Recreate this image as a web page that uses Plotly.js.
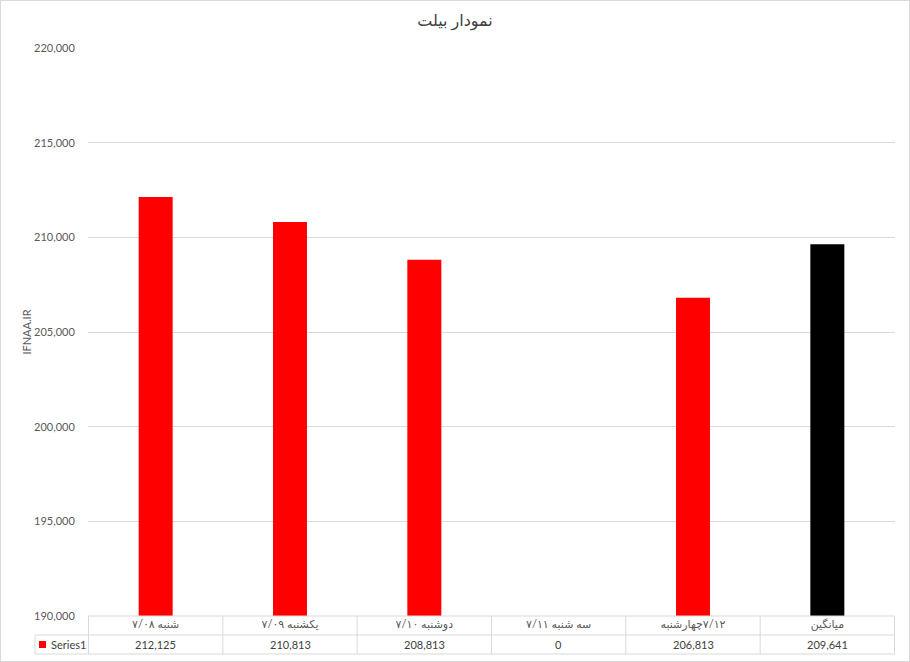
<!DOCTYPE html>
<html>
<head>
<meta charset="utf-8">
<script src="https://cdn.plot.ly/plotly-3.0.1.min.js"></script>
<style>
html,body{margin:0;padding:0;background:#fff;}
#chart{width:910px;height:662px;box-sizing:border-box;border:1px solid #D9D9D9;}
</style>
</head>
<body>
<div id="chart"></div>
<script>
// Data
const categories = ["۷/۰۸ شنبه", "۷/۰۹ یکشنبه", "۷/۱۰ دوشنبه", "۷/۱۱ سه شنبه", "چهارشنبه\u200E۷/۱۲", "میانگین"];
const values = [212125, 210813, 208813, 0, 206813, 209641];
const valueLabels = ["212,125", "210,813", "208,813", "0", "206,813", "209,641"];
const seriesName = "Series1";
const chartTitle = "نمودار بیلت";
const yTitle = "IFNAA.IR";

const FONT = "Lato, 'DejaVu Sans', sans-serif";
const GRID = "#D9D9D9";
const TXT = "#595959";
const barColors = categories.map((c, i) => i === categories.length - 1 ? "#000000" : "#FF0000");

const W = 908, H = 660; // inside border
const mL = 87, mR = 14, mT = 47, mB = 45;
const plotH = H - mT - mB;
const plotW = W - mL - mR;
const py = px => -(px) / plotH; // px below plot bottom -> paper y
const rowH = 19;

const shapes = [];
const n = categories.length;
shapes.push({type:'line', xref:'paper', yref:'paper', x0:0, x1:1, y0:0, y1:0, line:{color:GRID, width:1}});
shapes.push({type:'line', xref:'paper', yref:'paper', x0:-53/plotW, x1:1, y0:py(rowH), y1:py(rowH), line:{color:GRID, width:1}});
shapes.push({type:'line', xref:'paper', yref:'paper', x0:-53/plotW, x1:1, y0:py(2*rowH), y1:py(2*rowH), line:{color:GRID, width:1}});
shapes.push({type:'line', xref:'paper', yref:'paper', x0:-53/plotW, x1:-53/plotW, y0:py(rowH), y1:py(2*rowH), line:{color:GRID, width:1}});
for (let i = 0; i <= n; i++) {
  shapes.push({type:'line', xref:'x', yref:'paper', x0:i-0.5, x1:i-0.5, y0:0, y1:py(2*rowH), line:{color:GRID, width:1}});
}
// legend key square
shapes.push({type:'rect', xref:'paper', yref:'paper', x0:-49/plotW, x1:-42/plotW, y0:py(rowH*1.5-3.5), y1:py(rowH*1.5+3.5), line:{width:0}, fillcolor:'#FF0000'});

const annotations = values.map((v, i) => ({
  xref:'x', yref:'paper', x:categories[i], y:py(rowH*1.5), text:valueLabels[i],
  showarrow:false, xanchor:'center', yanchor:'middle', font:{family:FONT, size:11, color:'#404040'}
}));
annotations.push({
  xref:'paper', yref:'paper', x:-39/plotW, y:py(rowH*1.5), xanchor:'left', yanchor:'middle',
  showarrow:false, text:seriesName,
  font:{family:FONT, size:11, color:'#404040'}
});

const trace = {
  type:'bar', x:categories, y:values, name:seriesName,
  marker:{color:barColors}, hoverinfo:'none'
};

const layout = {
  width:W, height:H,
  margin:{l:mL, r:mR, t:mT, b:mB},
  paper_bgcolor:'#fff', plot_bgcolor:'#fff',
  showlegend:false,
  bargap:0.747,
  title:{text:chartTitle, x:0.5, xanchor:'center', y:1-19/H, yanchor:'middle', font:{family:FONT, size:16, color:'#404040'}},
  xaxis:{type:'category', showgrid:false, zeroline:false, showline:false, ticks:'',
         tickfont:{family:FONT, size:11, color:TXT}, fixedrange:true},
  yaxis:{range:[190000, 220000], dtick:5000, tickformat:',', showgrid:true, gridcolor:GRID, gridwidth:1,
         zeroline:false, showline:false, ticks:'outside', ticklen:10, tickcolor:'rgba(0,0,0,0)',
         tickfont:{family:FONT, size:11, color:TXT},
         title:{text:yTitle, standoff:0, font:{family:FONT, size:11, color:TXT}}},
  shapes:shapes,
  annotations:annotations
};

Plotly.newPlot('chart', [trace], layout, {displayModeBar:false, staticPlot:true});
</script>
</body>
</html>
